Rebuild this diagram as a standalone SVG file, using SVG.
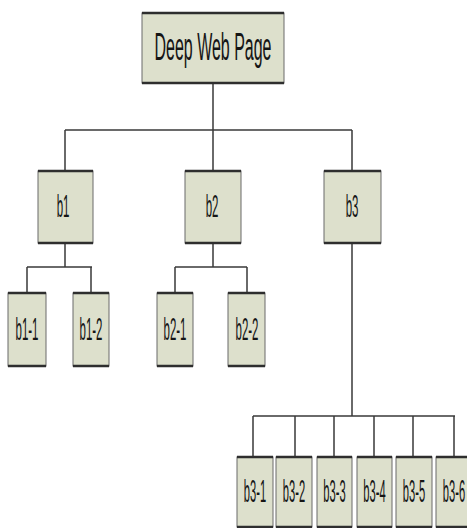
<svg xmlns="http://www.w3.org/2000/svg" width="467" height="528" viewBox="0 0 467 528">
<style>
.box{fill:#dde0cc;stroke:#6a6a6a;stroke-width:1}
.edge{stroke:#2e2e2e;stroke-width:2.5}
.conn{stroke:#3a3a3a;stroke-width:1.5;fill:none}
text{font-family:"Liberation Sans",Arial,sans-serif;fill:#151515;text-anchor:middle;font-size:31px}
.root{font-size:39px}
</style>
<rect width="467" height="528" fill="#ffffff"/>
<g id="connectors" class="conn">
<path d="M213 83V130M65 130H352M65 130V171M213 130V171M352 130V171"/>
<path d="M65 243V267M27 267H92M27 267V293M91 267V293"/>
<path d="M213 243V267M175 267H247M175 267V293M247 267V293"/>
<path d="M352 243V416M253 416H455M253 416V457M295 416V457M334 416V457M374 416V457M413 416V457M454 416V457"/>
</g>
<g id="root">
<rect class="box" x="142" y="13" width="142" height="70"/>
<path class="edge" d="M142 13H284M142 83H284"/>
<text class="root" transform="translate(213 60) scale(0.41 1)">Deep Web Page</text>
</g>
<g id="b1">
<rect class="box" x="38" y="171" width="55" height="72"/>
<path class="edge" d="M38 171H93M38 243H93"/>
<text transform="translate(63 217) scale(0.37 1)">b1</text>
</g>
<g id="b2">
<rect class="box" x="185" y="171" width="56" height="72"/>
<path class="edge" d="M185 171H241M185 243H241"/>
<text transform="translate(212 217) scale(0.37 1)">b2</text>
</g>
<g id="b3">
<rect class="box" x="324" y="171" width="57" height="72"/>
<path class="edge" d="M324 171H381M324 243H381"/>
<text transform="translate(352 217) scale(0.37 1)">b3</text>
</g>
<g id="b1-1">
<rect class="box" x="8" y="293" width="38" height="73"/>
<path class="edge" d="M8 293H46M8 366H46"/>
<text transform="translate(27 340) scale(0.37 1)">b1-1</text>
</g>
<g id="b1-2">
<rect class="box" x="73" y="293" width="36" height="73"/>
<path class="edge" d="M73 293H109M73 366H109"/>
<text transform="translate(91 340) scale(0.37 1)">b1-2</text>
</g>
<g id="b2-1">
<rect class="box" x="157" y="293" width="36" height="73"/>
<path class="edge" d="M157 293H193M157 366H193"/>
<text transform="translate(175 340) scale(0.37 1)">b2-1</text>
</g>
<g id="b2-2">
<rect class="box" x="228" y="293" width="37" height="73"/>
<path class="edge" d="M228 293H265M228 366H265"/>
<text transform="translate(247 340) scale(0.37 1)">b2-2</text>
</g>
<g id="b3-1">
<rect class="box" x="237" y="457" width="36" height="70"/>
<path class="edge" d="M237 457H273M237 527H273"/>
<text transform="translate(255 502) scale(0.36 1)">b3-1</text>
</g>
<g id="b3-2">
<rect class="box" x="276" y="457" width="36" height="70"/>
<path class="edge" d="M276 457H312M276 527H312"/>
<text transform="translate(294 502) scale(0.36 1)">b3-2</text>
</g>
<g id="b3-3">
<rect class="box" x="317" y="457" width="35" height="70"/>
<path class="edge" d="M317 457H352M317 527H352"/>
<text transform="translate(334.5 502) scale(0.36 1)">b3-3</text>
</g>
<g id="b3-4">
<rect class="box" x="357" y="457" width="35" height="70"/>
<path class="edge" d="M357 457H392M357 527H392"/>
<text transform="translate(374.5 502) scale(0.36 1)">b3-4</text>
</g>
<g id="b3-5">
<rect class="box" x="396" y="457" width="36" height="70"/>
<path class="edge" d="M396 457H432M396 527H432"/>
<text transform="translate(414 502) scale(0.36 1)">b3-5</text>
</g>
<g id="b3-6">
<rect class="box" x="436" y="457" width="36" height="70"/>
<path class="edge" d="M436 457H472M436 527H472"/>
<text transform="translate(454 502) scale(0.36 1)">b3-6</text>
</g>
</svg>
